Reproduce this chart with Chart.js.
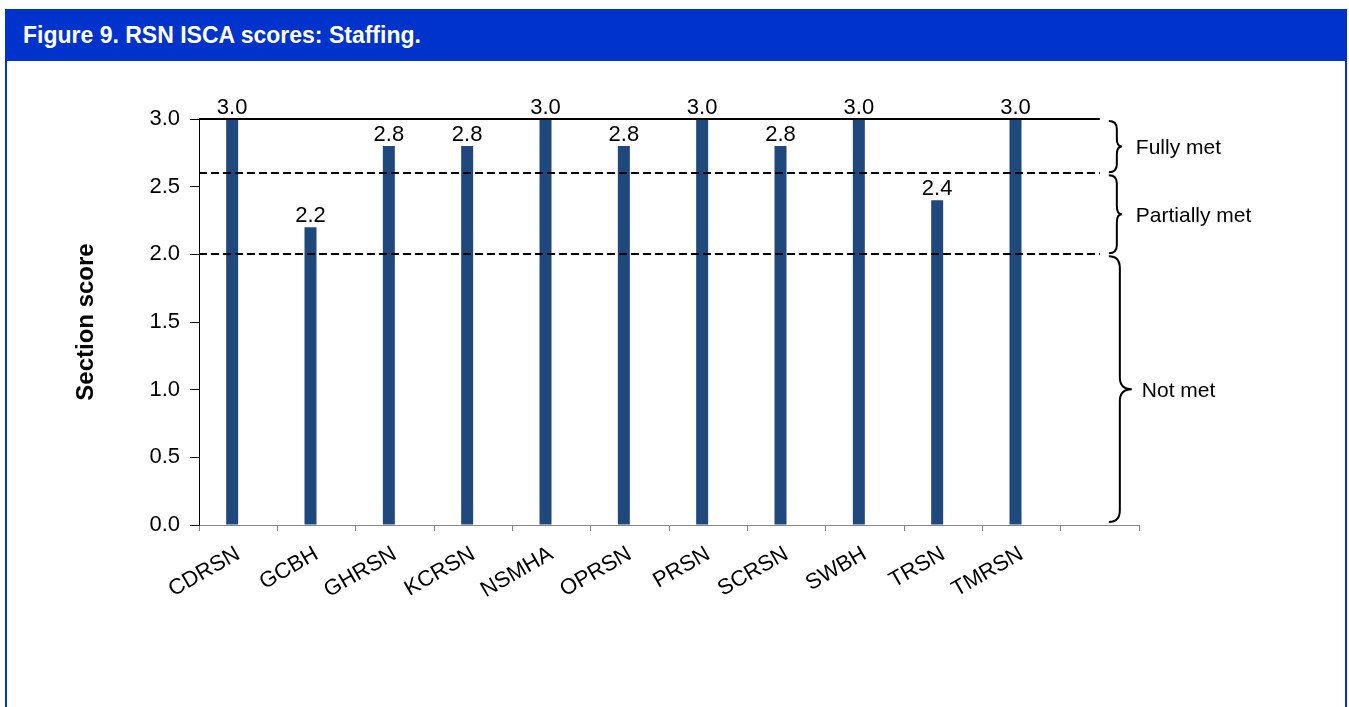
<!DOCTYPE html>
<html>
<head>
<meta charset="utf-8">
<title>Figure 9. RSN ISCA scores: Staffing.</title>
<script src="https://cdn.jsdelivr.net/npm/chart.js@4.4.0/dist/chart.umd.min.js"></script>
<style>
    body { margin: 0; background: #fff; font-family: "Liberation Sans", Arial, sans-serif; }
    #frame { position: absolute; left: 5px; top: 9px; width: 1342px; height: 720px; box-sizing: border-box;
             border-left: 2px solid #0033cc; border-right: 2px solid #0033cc; }
    #header { position: absolute; left: 5px; top: 9px; width: 1342px; height: 52px; box-sizing: border-box;
              background: #0033cc; color: #fff; font-weight: bold; font-size: 23px; line-height: 52px;
              padding-left: 18px; white-space: nowrap; }
    #wrap { position: absolute; left: 0; top: 0; width: 1349px; height: 707px; }
</style>
</head>
<body>
<div id="frame"></div>
<div id="header">Figure 9. RSN ISCA scores: Staffing.</div>
<div id="wrap"><canvas id="myChart"></canvas></div>

<script>
var centres = ['CDRSN', 'GCBH', 'GHRSN', 'KCRSN', 'NSMHA', 'OPRSN', 'PRSN', 'SCRSN', 'SWBH', 'TRSN', 'TMRSN', '']
var scores = [3.0, 2.2, 2.8, 2.8, 3.0, 2.8, 3.0, 2.8, 3.0, 2.4, 3.0, null]
// second (empty) series keeps each bar on the left half of its slot
var emptySeries = [null, null, null, null, null, null, null, null, null, null, null, null]
var scoreTicks = [0.0, 0.5, 1.0, 1.5, 2.0, 2.5, 3.0]

var bandNames = ['Fully met', 'Partially met', 'Not met']
var bandLimits = [3.0, 2.6, 2.0, 0.0]

var FONT = '"Liberation Sans", Arial, sans-serif'

function brace(ctx, x0, top, bottom, stem, tip, r) {
    var mid = (top + bottom) / 2
    ctx.beginPath()
    ctx.moveTo(x0, top)
    ctx.quadraticCurveTo(x0 + stem, top, x0 + stem, top + r)
    ctx.lineTo(x0 + stem, mid - r)
    ctx.quadraticCurveTo(x0 + stem, mid, x0 + tip, mid)
    ctx.quadraticCurveTo(x0 + stem, mid, x0 + stem, mid + r)
    ctx.lineTo(x0 + stem, bottom - r)
    ctx.quadraticCurveTo(x0 + stem, bottom, x0, bottom)
    ctx.stroke()
}

var annotations = {
    id: 'annotations',
    afterDatasetsDraw: function (chart) {
        var ctx = chart.ctx
        var x = chart.scales.x, y = chart.scales.y
        var left = chart.chartArea.left
        var right = x.getPixelForValue(centres.length - 1)

        ctx.save()
        ctx.fillStyle = '#000'
        ctx.font = '22px ' + FONT
        ctx.textAlign = 'center'
        ctx.textBaseline = 'alphabetic'
        chart.getDatasetMeta(0).data.forEach(function (bar, i) {
            if (scores[i] == null) return
            ctx.fillText(scores[i].toFixed(1), bar.x, bar.y - 5)
        })

        // threshold lines: solid at the top, dashed between bands
        ctx.strokeStyle = '#000'
        ctx.lineWidth = 2
        for (var i = 0; i < bandLimits.length - 1; i++) {
            var py = Math.round(y.getPixelForValue(bandLimits[i]))
            ctx.setLineDash(i == 0 ? [] : [8, 4])
            ctx.beginPath()
            ctx.moveTo(left, py)
            ctx.lineTo(right, py)
            ctx.stroke()
        }
        ctx.setLineDash([])

        // braces and band names
        ctx.font = '21px ' + FONT
        ctx.textAlign = 'left'
        ctx.textBaseline = 'middle'
        var x0 = right + 9
        for (var j = 0; j < bandNames.length; j++) {
            var top = y.getPixelForValue(bandLimits[j]) + 2
            var bottom = y.getPixelForValue(bandLimits[j + 1]) - (j == bandNames.length - 1 ? 3 : 1)
            var big = bottom - top > 150
            var stem = big ? 11 : 8
            var tip = big ? 23 : 13
            brace(ctx, x0, top, bottom, stem, tip, big ? 12 : 8)
            ctx.fillText(bandNames[j], x0 + tip + (big ? 10 : 14), (top + bottom) / 2 + 2)
        }
        ctx.restore()
    }
}

var chart = new Chart(document.getElementById('myChart'), {
    type: 'bar',
    data: {
        labels: centres,
        datasets: [
            {
                label: 'Section score',
                data: scores,
                backgroundColor: '#1f497d',
                borderWidth: 0,
                categoryPercentage: 0.3064,
                barPercentage: 1
            },
            {
                label: '',
                data: emptySeries,
                backgroundColor: 'rgba(0,0,0,0)',
                categoryPercentage: 0.3064,
                barPercentage: 1
            }
        ]
    },
    options: {
        responsive: true,
        maintainAspectRatio: false,
        animation: false,
        layout: { padding: { left: 0, top: 119, right: 210, bottom: 0 } },
        plugins: {
            legend: { display: false },
            tooltip: { enabled: false }
        },
        scales: {
            x: {
                offset: true,
                afterFit: function (scale) { scale.height = 182 },
                grid: { offset: true, drawOnChartArea: false, drawTicks: true, tickLength: 6, color: '#878787' },
                border: { display: true, color: '#878787', width: 1 },
                ticks: {
                    autoSkip: false,
                    minRotation: 30,
                    maxRotation: 30,
                    padding: 10,
                    labelOffset: 0,
                    color: '#000',
                    font: { family: FONT, size: 22 }
                }
            },
            y: {
                min: 0,
                max: 3,
                afterFit: function (scale) { scale.width = 199 },
                afterBuildTicks: function (scale) {
                    scale.ticks = scoreTicks.map(function (v) { return { value: v } })
                },
                grid: { drawOnChartArea: false, drawTicks: true, tickLength: 9, color: '#000' },
                border: { display: true, color: '#000', width: 1 },
                ticks: {
                    padding: 10,
                    color: '#000',
                    font: { family: FONT, size: 22 },
                    callback: function (v) { return Number(v).toFixed(1) }
                },
                title: {
                    display: true,
                    text: 'Section score',
                    color: '#000',
                    font: { family: FONT, size: 24, weight: 'bold' },
                    padding: { top: 72, bottom: 0 }
                }
            }
        }
    },
    plugins: [annotations]
})
</script>
</body>
</html>
